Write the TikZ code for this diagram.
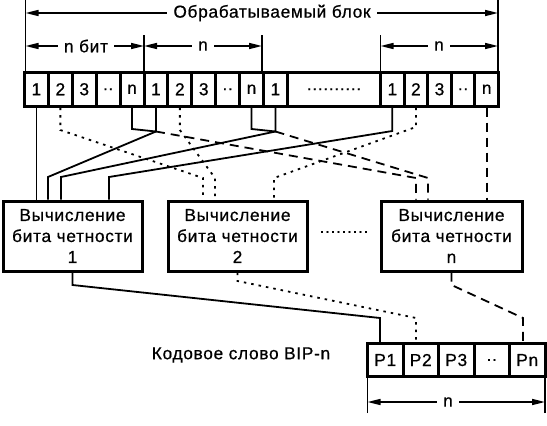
\documentclass[tikz,border=0pt]{standalone}
\usepackage{fontspec}
\setmainfont{Liberation Sans}[LetterSpace=4,FakeBold=0.7]
\usetikzlibrary{arrows.meta}
\begin{document}
\begin{tikzpicture}[x=1pt,y=-1pt,
  txt/.style={font=\fontsize{17.3}{21}\selectfont},
  cell/.style={draw,line width=3pt,minimum height=33.5pt,inner sep=0pt,txt},
  pcell/.style={draw,line width=3pt,minimum height=33pt,minimum width=35.5pt,inner sep=0pt,txt},
  calc/.style={draw,line width=3pt,minimum height=70pt,align=center,inner sep=0pt,txt},
  dim/.style={line width=1.6pt,{Triangle[length=13pt,width=6pt]}-{Triangle[length=13pt,width=6pt]}},
  ext/.style={line width=1.6pt},
  dlbl/.style={fill=white,inner xsep=6pt,inner ysep=1pt,txt},
  solidc/.style={line width=1.8pt},
  dotc/.style={line width=1.8pt,dash pattern=on 2.5pt off 5pt},
  dashc/.style={line width=1.8pt,dash pattern=on 9pt off 6pt}]
\useasboundingbox (0,0) rectangle (547,426);
% processed block cells
\node[cell,minimum width=23.9pt] (c0) at (36.45,89.25) {1};
\node[cell,minimum width=23.9pt] (c1) at (60.35,89.25) {2};
\node[cell,minimum width=23.9pt] (c2) at (84.25,89.25) {3};
\node[cell,minimum width=23.9pt] (c3) at (108.15,89.25) {..};
\node[cell,minimum width=23.9pt] (c4) at (132.05,89.25) {n};
\node[cell,minimum width=23.9pt] (c5) at (155.95,89.25) {1};
\node[cell,minimum width=23.9pt] (c6) at (179.85,89.25) {2};
\node[cell,minimum width=23.9pt] (c7) at (203.75,89.25) {3};
\node[cell,minimum width=23.9pt] (c8) at (227.65,89.25) {..};
\node[cell,minimum width=23.9pt] (c9) at (251.55,89.25) {n};
\node[cell,minimum width=23.9pt] (c10) at (275.45,89.25) {1};
\node[cell,minimum width=93.1pt] (cw) at (333.95,89.25) {..........};
\node[cell,minimum width=23.6pt] (d0) at (392.3,89.25) {1};
\node[cell,minimum width=23.6pt] (d1) at (415.9,89.25) {2};
\node[cell,minimum width=23.6pt] (d2) at (439.5,89.25) {3};
\node[cell,minimum width=23.6pt] (d3) at (463.1,89.25) {..};
\node[cell,minimum width=23.6pt] (d4) at (486.7,89.25) {n};
% dimension lines on top
\coordinate (e0) at (25.5,0);
\coordinate (e1) at (144,35);
\coordinate (e2) at (262,35);
\coordinate (e3) at (380.5,35);
\coordinate (e4) at (498,0);
\draw[ext] (e0) -- (e0 |- c0.north);
\draw[ext] (e1) -- (e1 |- c0.north);
\draw[ext] (e2) -- (e2 |- c0.north);
\draw[ext] (e3) -- (e3 |- c0.north);
\draw[ext] (e4) -- (e4 |- c0.north);
\draw[dim] (e0 |- 0,13) -- (e4 |- 0,13);
\node[dlbl] (tblock) at (272,13) {Обрабатываемый блок};
\draw[dim] (e0 |- 0,46) -- (e1 |- 0,46);
\node[dlbl] (tg1) at (86,46) {n бит};
\draw[dim] (e1 |- 0,46) -- (e2 |- 0,46);
\node[dlbl] (tg2) at (203,46) {n};
\draw[dim] (e3 |- 0,46) -- (e4 |- 0,46);
\node[dlbl] (tg3) at (439,46) {n};
% parity calculators
\node[calc,minimum width=139pt] (b1) at (72.5,236) {Вычисление\\бита четности\\1};
\node[calc,minimum width=139pt] (b2) at (237.5,236) {Вычисление\\бита четности\\2};
\node[calc,minimum width=141pt] (b3) at (451.5,236) {Вычисление\\бита четности\\n};
\node[txt] (bdots) at (344,232) {.........};
% BIP-n code word
\node[pcell] (p1) at (385.25,360) {P1};
\node[pcell] (p2) at (420.75,360) {P2};
\node[pcell] (p3) at (456.25,360) {P3};
\node[pcell] (p4) at (491.75,360) {..};
\node[pcell] (p5) at (527.25,360) {Pn};
\node[txt] (bip) at (241,355) {Кодовое слово BIP-n};
\coordinate (f0) at (367.5,413);
\coordinate (f1) at (545,413);
\draw[ext] (f0) -- (f0 |- p1.south);
\draw[ext] (f1) -- (f1 |- p1.south);
\draw[dim] (f0 |- 0,402) -- (f1 |- 0,402);
\node[dlbl] (tp) at (448,402) {n};
% bit 1 connections (solid)
\draw[solidc] (c0.south) -- (b1.north -| c0.south);
\draw[solidc] (c5.south) -- (c5.south |- 0,131.5) -- (48,177) -- (b1.north -| 48,0);
\draw[solidc] (c10.south) -- (c10.south |- 0,131.5) -- (61,177) -- (b1.north -| 61,0);
\draw[solidc] (d0.south) -- (d0.south |- 0,131) -- (109,177) -- (b1.north -| 109,0);
% stubs of n-bit lines joining the next 1-bit line
\draw[solidc] (c4.south) -- (c4.south |- 0,129) -- (c5.south |- 0,131.5);
\draw[solidc] (c9.south) -- (c9.south |- 0,129) -- (c10.south |- 0,131.5);
% bit 2 connections (dotted)
\draw[dotc] (c1.south) -- (c1.south |- 0,130) -- (203,178) -- (b2.north -| 203,0);
\draw[dotc] (c6.south) -- (c6.south |- 0,130) -- (215,178) -- (b2.north -| 215,0);
\draw[dotc] (d1.south) -- (d1.south |- 0,127) -- (274,178) -- (b2.north -| 274,0);
% bit n connections (dashed)
\draw[dashc] (c5.south |- 0,131.5) -- (416,178) -- (b3.north -| 416,0);
\draw[dashc] (c10.south |- 0,131.5) -- (428,178) -- (b3.north -| 428,0);
\draw[dashc] (d4.south) -- (b3.north -| d4.south);
% outputs to the code word
\draw[solidc] (b1.south) -- (b1.south |- 0,285) -- (380,318) -- (p1.north -| 380,0);
\draw[dotc] (b2.south) -- (b2.south |- 0,281) -- (416,318) -- (p2.north -| 416,0);
\draw[dashc] (b3.south) -- (b3.south |- 0,285) -- (523,318) -- (p5.north -| 523,0);
\end{tikzpicture}
\end{document}
